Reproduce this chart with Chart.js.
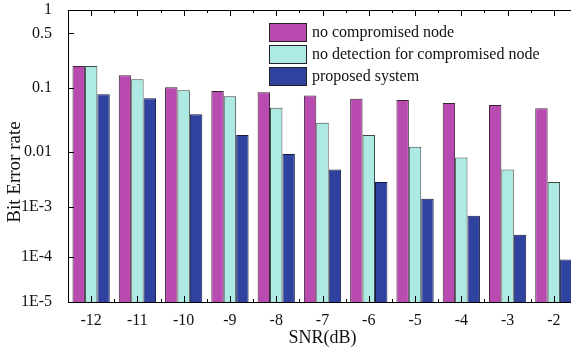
<!DOCTYPE html>
<html>
<head>
<meta charset="utf-8">
<script src="https://cdn.jsdelivr.net/npm/chart.js@4"></script>
<style>
  html, body { margin: 0; padding: 0; overflow: hidden; background: #fff; }
</style>
</head>
<body>
<canvas id="myChart" width="590" height="349"></canvas>
<script>
const snr = ["-12", "-11", "-10", "-9", "-8", "-7", "-6", "-5", "-4", "-3", "-2"];
const noCompromised = [0.191, 0.146, 0.102, 0.090, 0.086, 0.076, 0.068, 0.065, 0.058, 0.054, 0.048];
const noDetection = [0.191, 0.129, 0.092, 0.074, 0.049, 0.0287, 0.0184, 0.0120, 0.0079, 0.0048, 0.00285];
const proposed = [0.080, 0.069, 0.0388, 0.0184, 0.0092, 0.0048, 0.00285, 0.00142, 0.00067, 0.00028, 0.000088];

const yTickValues = [1e-5, 1e-4, 1e-3, 0.01, 0.1, 0.5, 1];
const yTickLabels = ["1E-5", "1E-4", "1E-3", "0.01", "0.1", "0.5", "1"];

// the original axis is not evenly spaced per decade; fraction of axis height at each decade (1 ... 1E-5)
const decadeFrac = [0, 0.267, 0.486, 0.675, 0.846, 1];

function fracForValue(v) {
  let d = -Math.log10(v);
  if (!isFinite(d) || d > 5) d = 5;
  if (d < 0) d = 0;
  const i = Math.min(Math.floor(d), 4);
  return decadeFrac[i] + (d - i) * (decadeFrac[i + 1] - decadeFrac[i]);
}

class WarpedLog extends Chart.LogarithmicScale {
  getPixelForValue(value) {
    if (value === undefined || value === null || value <= 0) value = this.min;
    return this.top + fracForValue(value) * (this.bottom - this.top);
  }
  getValueForPixel(pixel) {
    const f = (pixel - this.top) / (this.bottom - this.top);
    let i = 0;
    while (i < 4 && f > decadeFrac[i + 1]) i++;
    const d = i + (f - decadeFrac[i]) / (decadeFrac[i + 1] - decadeFrac[i]);
    return Math.pow(10, -d);
  }
}
WarpedLog.id = 'warpedLog';
Chart.register(WarpedLog);

const serif = "'Liberation Serif', 'DejaVu Serif', serif";

const frame = {
  id: 'frame',
  afterDraw(chart) {
    const { ctx, chartArea: a, scales: { x, y } } = chart;
    const half = (x.getPixelForValue(1) - x.getPixelForValue(0)) / 2;
    ctx.save();
    ctx.strokeStyle = '#000';
    ctx.lineWidth = 1;
    ctx.beginPath();
    ctx.moveTo(a.left, a.top + 0.5);
    ctx.lineTo(a.right, a.top + 0.5);
    for (let i = 0; i < snr.length; i++) {
      const px = Math.round(x.getPixelForValue(i)) + 0.5;
      ctx.moveTo(px, a.bottom); ctx.lineTo(px, a.bottom - 6);
      ctx.moveTo(px, a.top); ctx.lineTo(px, a.top + 6);
      const bx = Math.round(x.getPixelForValue(i) + half) + 0.5;
      ctx.moveTo(bx, a.bottom); ctx.lineTo(bx, a.bottom - 3);
      ctx.moveTo(bx, a.top); ctx.lineTo(bx, a.top + 3);
    }
    yTickValues.forEach(v => {
      const py = Math.round(y.getPixelForValue(v)) + 0.5;
      ctx.moveTo(a.left, py); ctx.lineTo(a.left + 6, py);
    });
    ctx.stroke();

    // legend
    ctx.font = '16px ' + serif;
    ctx.textBaseline = 'middle';
    ctx.textAlign = 'left';
    chart.data.datasets.forEach((ds, i) => {
      const top = 23 + i * 22;
      ctx.fillStyle = ds.backgroundColor;
      ctx.fillRect(269, top, 38, 19);
      ctx.strokeStyle = '#222';
      ctx.strokeRect(269.5, top + 0.5, 37, 18);
      ctx.fillStyle = '#111';
      ctx.fillText(ds.label, 312, top + 10);
    });

    // y title
    ctx.translate(15, 172);
    ctx.rotate(-Math.PI / 2);
    ctx.textAlign = 'center';
    ctx.font = '19px ' + serif;
    ctx.fillText('Bit Error rate', 0, 0);
    ctx.restore();
  }
};

const ctx = document.getElementById('myChart');

new Chart(ctx, {
  type: 'bar',
  data: {
    labels: snr,
    datasets: [{
      label: 'no compromised node',
      data: noCompromised,
      backgroundColor: '#b94aaf',
      borderColor: '#3a2238',
      borderWidth: 1
    }, {
      label: 'no detection for compromised node',
      data: noDetection,
      backgroundColor: '#adeae3',
      borderColor: '#3c4a48',
      borderWidth: 1
    }, {
      label: 'proposed system',
      data: proposed,
      backgroundColor: '#2f42a0',
      borderColor: '#141c44',
      borderWidth: 1
    }]
  },
  options: {
    responsive: false,
    animation: false,
    layout: { padding: { top: 10, right: 13, left: 0, bottom: 0 } },
    datasets: { bar: { categoryPercentage: 0.805, barPercentage: 1.0 } },
    plugins: { legend: { display: false }, tooltip: { enabled: false } },
    scales: {
      x: {
        grid: { display: false },
        border: { display: true, color: '#000', width: 1 },
        ticks: { color: '#111', font: { family: serif, size: 16 }, padding: 1 },
        title: { display: true, text: 'SNR(dB)', color: '#111', font: { family: serif, size: 18 }, padding: { top: 0, bottom: 0 } },
        afterFit(scale) { scale.height = 47; scale.paddingLeft = 0; scale.paddingRight = 0; }
      },
      y: {
        type: 'warpedLog',
        min: 1e-5,
        max: 1,
        grid: { display: false },
        border: { display: true, color: '#000', width: 1 },
        afterBuildTicks(scale) {
          scale.ticks = yTickValues.map(v => ({ value: v }));
        },
        ticks: {
          autoSkip: false,
          color: '#111',
          font: { family: serif, size: 16 },
          padding: 8,
          callback: (v) => yTickLabels[yTickValues.indexOf(v)]
        },
        afterFit(scale) { scale.width = 68; scale.paddingTop = 0; scale.paddingBottom = 0; }
      }
    }
  },
  plugins: [frame]
});
</script>
</body>
</html>
